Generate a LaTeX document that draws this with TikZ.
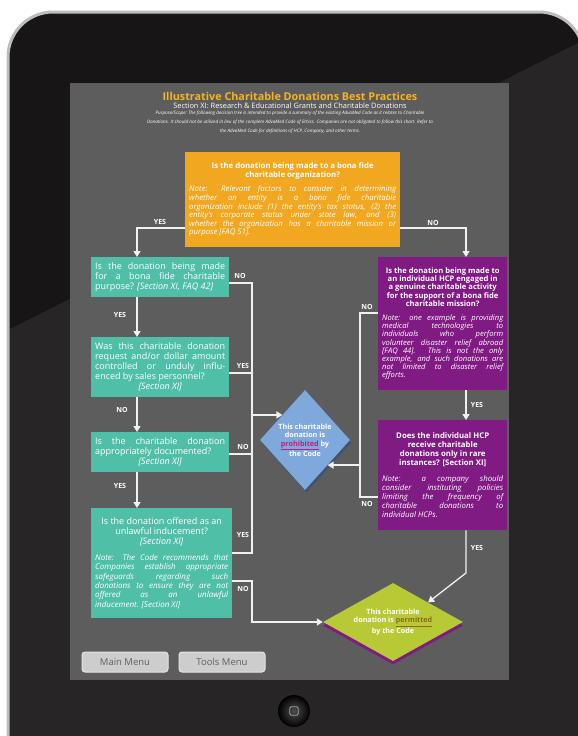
\documentclass[tikz,border=0pt]{standalone}
\usepackage{fontspec}
\setmainfont{Open Sans}
\usetikzlibrary{positioning,arrows.meta,calc,shapes.geometric,shadows}
\hyphenpenalty=10000
\exhyphenpenalty=10000
\definecolor{bodyBlack}{HTML}{171515}
\definecolor{rimSilver}{HTML}{BDBDBD}
\definecolor{screenGray}{HTML}{5D5D5D}
\definecolor{titleGold}{HTML}{F4B41A}
\definecolor{qOrange}{HTML}{F1A71F}
\definecolor{qTeal}{HTML}{50BFA8}
\definecolor{qPurple}{HTML}{801B83}
\definecolor{noBlue}{HTML}{7FA9DD}
\definecolor{okGreen}{HTML}{B7C934}
\definecolor{noMagenta}{HTML}{B8237A}
\definecolor{okBrown}{HTML}{8C6A1C}
\definecolor{btnGray}{HTML}{CDCDCD}
\tikzset{
  qbox/.style   ={rectangle, anchor=north west, text=white, inner sep=4pt,
                  align=justify},
  tealq/.style  ={qbox, fill=qTeal, font=\fontsize{9}{10}\selectfont},
  purpq/.style  ={qbox, fill=qPurple, font=\fontsize{7.6}{8.2}\selectfont},
  orangeq/.style={qbox, fill=qOrange, font=\fontsize{7.8}{8.6}\selectfont},
  % end points of the tree
  verdict/.style={diamond, inner sep=0pt, text=white, align=center,
                  font=\bfseries\fontsize{7.2}{8.4}\selectfont},
  flow/.style   ={draw=white!88!gray, line width=1.3pt},
  flowarr/.style={flow, -{Triangle[length=6pt,width=7pt]}},
  ans/.style    ={text=white, inner sep=0pt,
                  font=\bfseries\fontsize{7}{8}\selectfont},
  menubtn/.style={rectangle, rounded corners=3pt, fill=btnGray,
                  draw=white!80!gray, line width=1pt, text=gray!75!black,
                  minimum width=86pt, minimum height=20pt,
                  font=\fontsize{9.5}{10}\selectfont},
}
\begin{document}
\begin{tikzpicture}[x=1pt,y=-1pt]
\useasboundingbox (0,0) rectangle (578,736);
\fill[white] (0,0) rectangle (578,736);
% tablet body, glare and screen
\draw[rimSilver, line width=3pt, fill=bodyBlack, rounded corners=45pt]
  (8,12) rectangle (584,790);
\begin{scope}
  \clip[rounded corners=45pt] (9.5,13.5) rectangle (582.5,788);
  \fill[white, opacity=0.07] (8,330) -- (584,40) -- (584,790) -- (8,790) -- cycle;
\end{scope}
\fill[screenGray] (70,83) rectangle (509,680);

% heading
\node[text=titleGold, font=\bfseries\fontsize{10.8}{12}\selectfont]
  (title) at (290,96) {Illustrative Charitable Donations Best Practices};
\node[text=white, font=\fontsize{7.4}{9}\selectfont]
  (subtitle) at (290,105.5)
  {Section XI: Research \& Educational Grants and Charitable Donations};
\node[text=white, align=center, font=\itshape\fontsize{4.6}{8.8}\selectfont]
  (scopeNote) at (290,122.5)
  {Purpose/Scope: The following decision tree is intended to provide a summary
   of the existing AdvaMed Code as it relates to Charitable\\
   Donations. It should not be utilized in lieu of the complete AdvaMed Code
   of Ethics. Companies are not obligated to follow this chart. Refer to\\
   the AdvaMed Code for definitions of HCP, Company, and other terms.};

% questions
\node[orangeq, text width=207pt, minimum height=95pt] (orgQ) at (185,152)
  {{\centering\bfseries Is the donation being made to a bona fide\\
    charitable organization?\par}\vspace{6pt}
   {\itshape Note: Relevant factors to consider in determining\linebreak
    whether an entity is a bona fide charitable\linebreak
    organization include (1) the entity's tax status, (2) the\linebreak
    entity's corporate status under state law, and (3)\linebreak
    whether the organization has a charitable mission or\linebreak
    purpose [FAQ 51].\par}};
\node[tealq, text width=130pt, minimum height=40pt] (teal1) at (91,257)
  {Is the donation being made\linebreak for a bona fide charitable\linebreak
   purpose? {\itshape [Section XI, FAQ 42]}};
\node[tealq, text width=130pt, minimum height=60pt] (teal2) at (91,337)
  {Was this charitable donation\linebreak request and/or dollar amount\linebreak
   controlled or unduly influ-\linebreak enced by sales personnel?\par
   {\centering\itshape [Section XI]\par}};
\node[tealq, text width=130pt, minimum height=40pt] (teal3) at (91,432)
  {Is the charitable donation\linebreak appropriately documented?\par
   {\centering\itshape [Section XI]\par}};
\node[tealq, text width=133pt, minimum height=110pt] (teal4) at (91,508)
  {{\centering Is the donation offered as an\\ unlawful inducement?\\
    {\itshape [Section XI]}\par}\vspace{6pt}
   {\itshape\fontsize{8}{9.4}\selectfont Note: The Code recommends
    that\linebreak Companies establish appropriate\linebreak safeguards
    regarding such\linebreak donations to ensure they are not\linebreak
    offered as an unlawful\linebreak inducement. [Section XI]\par}};
\node[purpq, text width=121pt, minimum height=133pt] (purp1) at (378,257)
  {{\centering\bfseries Is the donation being made to\\ an individual HCP
    engaged in\\ a genuine charitable activity\\ for the support of a bona
    fide\\ charitable mission?\par}\vspace{6pt}
   {\itshape Note: one example is providing\linebreak medical technologies
    to\linebreak individuals who perform\linebreak volunteer disaster relief
    abroad\linebreak{}[FAQ 44]. This is not the only\linebreak example, and
    such donations are\linebreak not limited to disaster relief\linebreak
    efforts.\par}};
\node[purpq, text width=121pt, minimum height=110pt,
      font=\fontsize{7.8}{9}\selectfont] (purp2) at (378,420)
  {{\centering\bfseries Does the individual HCP\\ receive charitable\\
    donations only in rare\\ instances? [Section XI]\par}\vspace{7pt}
   {\itshape Note: a company should\linebreak consider instituting
    policies\linebreak limiting the frequency of\linebreak charitable
    donations to\linebreak individual HCPs.\par}};

% verdicts
\node[verdict, fill=noBlue, aspect=0.9, minimum width=90pt,
      minimum height=100pt,
      drop shadow={shadow xshift=1.5pt, shadow yshift=-2.5pt,
                   fill=noBlue!50!black, opacity=1}]
  (banned) at (305,440)
  {This charitable\\ donation is\\
   \textcolor{noMagenta}{\underline{prohibited}} by\\ the Code};
\node[verdict, fill=okGreen, aspect=1.8, minimum width=140pt,
      minimum height=78pt,
      drop shadow={shadow xshift=0pt, shadow yshift=-3.5pt,
                   fill=qPurple, opacity=1}]
  (allowed) at (393,622)
  {This charitable\\ donation is
   \textcolor{okBrown}{\underline{permitted}}\\ by the Code};

% connectors
\coordinate (lx) at (137,0);
\coordinate (rx) at (252,0);
\coordinate (mx) at (360,0);
\coordinate (px) at (466,0);
\draw[flowarr] (orgQ.west |- 0,228) -| (lx |- teal1.north);
\draw[flowarr] (orgQ.east |- 0,228) -| (px |- purp1.north);
\draw[flowarr] (lx |- teal1.south) -- (lx |- teal2.north);
\draw[flowarr] (lx |- teal2.south) -- (lx |- teal3.north);
\draw[flowarr] (lx |- teal3.south) -- (lx |- teal4.north);
\draw[flow] (teal1.east |- 0,283) -| (rx |- 0,553) -- (teal4.east |- 0,553);
\draw[flow] (teal2.east |- 0,373) -- (rx |- 0,373);
\draw[flow] (teal3.east |- 0,454) -- (rx |- 0,454);
\draw[flowarr] (rx |- banned.north west) -- (banned.north west);
\draw[flowarr] (teal4.east |- 0,581) -- (rx |- 0,581) |- (allowed.west);
\draw[flow] (purp1.west |- 0,313) -| (mx |- 0,497) -- (purp2.west |- 0,497);
\draw[flowarr] (mx |- banned.south east) -- (banned.south east);
\draw[flowarr] (px |- purp1.south) -- (px |- purp2.north);
\draw[flowarr] (px |- purp2.south) -- (px |- 0,573) -- (allowed.north east);

% answers
\foreach \t/\x/\y [count=\i] in {YES/160/222, NO/433/223, NO/240/276,
    YES/120/315, YES/243/366, NO/122/410, NO/243/447, YES/120/486,
    YES/243/535, NO/243/589, NO/367/307, YES/477/405, NO/367/504,
    YES/477/548}
  \node[ans] (ans\i) at (\x,\y) {\t};

% screen buttons and home button
\node[menubtn] (mainBtn) at (125,662) {Main Menu};
\node[menubtn] (toolsBtn) at (222,662) {Tools Menu};
\node[circle, minimum size=32pt, inner sep=0pt, shading=radial,
      inner color=gray!60!black, outer color=black] (homeBtn) at (294,711) {};
\node[rectangle, draw=gray!75, line width=0.8pt, rounded corners=1.5pt,
      minimum size=8.5pt, inner sep=0pt] (homeIcon) at (homeBtn) {};
\end{tikzpicture}
\end{document}
